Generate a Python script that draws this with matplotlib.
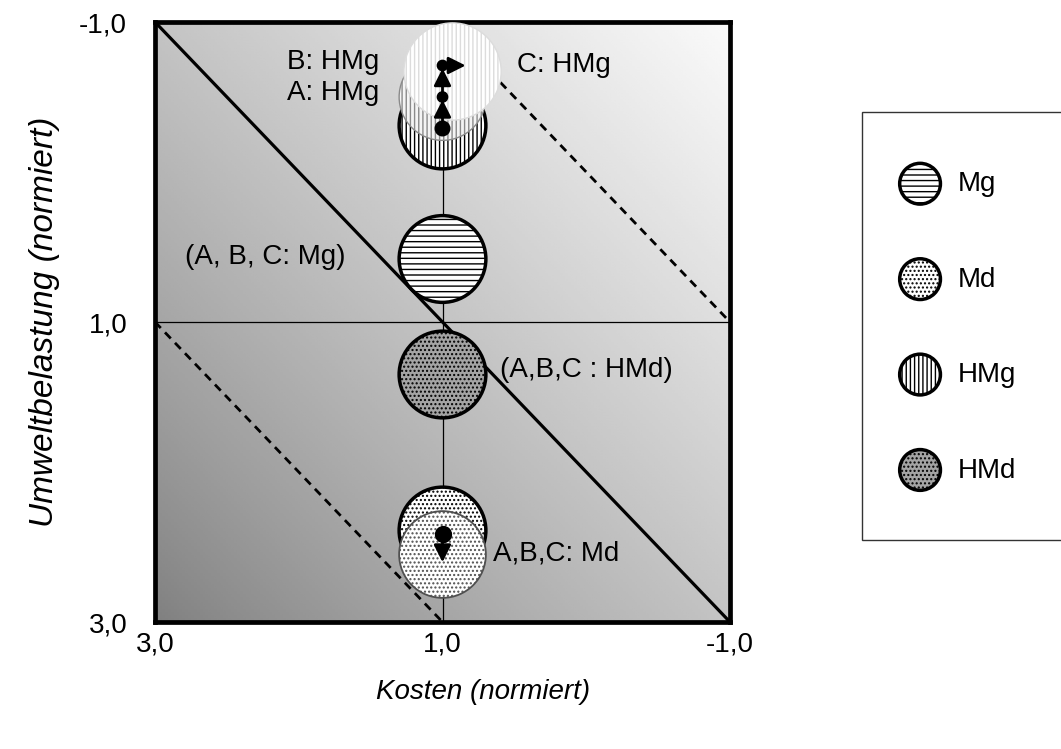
import numpy as np
import matplotlib.pyplot as plt

plt.rcParams['font.family'] = ['Liberation Sans', 'DejaVu Sans']

# Achsen (beide Achsen invertiert: 3,0 ... -1,0)
tick_values = [3, 1, -1]
tick_labels = ['3,0', '1,0', '-1,0']

# Blasen: Kosten (x) / Umweltbelastung (y), normiert
mg_cost, mg_env = [1.0], [0.58]
hmd_cost, hmd_env = [1.0], [1.35]
hmg_cost = [1.0, 1.0, 0.93]      # A, B, C
hmg_env = [-0.31, -0.50, -0.67]
md_cost = [1.0, 1.0]             # vorher / nachher
md_env = [2.39, 2.55]

# Verschiebungen (Pfeile)
hmg_path_cost = [1.0, 1.0, 1.0, 0.82]
hmg_path_env = [-0.29, -0.50, -0.71, -0.71]
md_path_cost = [1.0, 1.0]
md_path_env = [2.41, 2.62]

# Linien gleicher Summe (Kosten + Umwelt)
iso_levels = [0, 2, 4]

legend_labels = ['Mg', 'Md', 'HMg', 'HMd']

annotations = [
    ('B: HMg', 1.44, -0.735, 'right'),
    ('A: HMg', 1.44, -0.525, 'right'),
    ('C: HMg', 0.48, -0.713, 'left'),
    ('(A, B, C: Mg)', 2.79, 0.567, 'left'),
    ('(A,B,C : HMd)', 0.60, 1.32, 'left'),
    ('A,B,C: Md', 0.65, 2.54, 'left'),
]

fig = plt.figure(figsize=(10.61, 7.49), dpi=100)
ax = fig.add_axes([155/1061, 1-622/749, 575/1061, 600/749])

# Hintergrund-Verlauf
n = 200
jj, ii = np.meshgrid(np.linspace(0, 1, n), np.linspace(0, 1, n))
grad = 0.5 + 0.48 * ((ii + jj) / 2) ** 0.85
ax.imshow(grad, cmap='gray', vmin=0, vmax=1, origin='lower',
          extent=(3, -1, 3, -1), aspect='auto', zorder=0, interpolation='bilinear')

# Hilfslinien
ax.axvline(1, color='black', lw=0.9, zorder=1)
ax.axhline(1, color='black', lw=0.9, zorder=1)
xs = np.array([3, -1])
for lev in iso_levels:
    if lev == 2:
        ax.plot(xs, lev - xs, color='black', lw=2.3, zorder=2)
    else:
        ax.plot(xs, lev - xs, color='black', lw=2.0, ls=(0, (3, 2.2)), zorder=2)

S = 3900

# HMg A, B, C
hmg_a = ax.scatter(hmg_cost[:1], hmg_env[:1], s=S, facecolor='white', edgecolor='black',
                   hatch='||||', lw=2.5, zorder=3)
ax.scatter(hmg_cost[1:2], hmg_env[1:2], s=S, facecolor='#f4f4f4', edgecolor='#8a8a8a',
           hatch='||||', lw=1.0, zorder=3)
ax.scatter(hmg_cost[2:], hmg_env[2:], s=4900, facecolor='white', edgecolor='#dcdcdc',
           hatch='||||', lw=1.0, zorder=3)

# Mg
mg = ax.scatter(mg_cost, mg_env, s=S, facecolor='white', edgecolor='black',
                hatch='---', lw=2.5, zorder=3)

# HMd
hmd = ax.scatter(hmd_cost, hmd_env, s=S, facecolor='#a4a4a4', edgecolor='black',
                 hatch='....', lw=2.5, zorder=3)

# Md
md = ax.scatter(md_cost[:1], md_env[:1], s=S, facecolor='white', edgecolor='black',
                hatch='....', lw=2.5, zorder=3)
ax.scatter(md_cost[1:], md_env[1:], s=S, facecolor='white', edgecolor='#505050',
           hatch='....', lw=1.3, zorder=3)

# Pfeile und Punkte
arrow = dict(arrowstyle='-|>', color='black', lw=2, mutation_scale=26, shrinkA=0, shrinkB=2)
for i in range(len(hmg_path_cost) - 1):
    ax.annotate('', xy=(hmg_path_cost[i+1], hmg_path_env[i+1]),
                xytext=(hmg_path_cost[i], hmg_path_env[i]), arrowprops=arrow, zorder=5)
ax.scatter(hmg_path_cost[:3], hmg_path_env[:3], s=[110, 55, 55], color='black', zorder=6)
ax.annotate('', xy=(md_path_cost[1], md_path_env[1]), xytext=(md_path_cost[0], md_path_env[0]),
            arrowprops=arrow, zorder=5)
ax.scatter(md_path_cost[:1], md_path_env[:1], s=130, color='black', zorder=6)

for txt, x, y, ha in annotations:
    ax.text(x, y, txt, ha=ha, va='center', fontsize=20, zorder=7)

ax.set_xlim(3, -1)
ax.set_ylim(3, -1)
ax.set_xticks(tick_values)
ax.set_xticklabels(tick_labels)
ax.set_yticks(tick_values)
ax.set_yticklabels(tick_labels)
ax.tick_params(length=0, labelsize=20)
ax.tick_params(axis='y', pad=20)
ax.tick_params(axis='x', pad=7)
for sp in ax.spines.values():
    sp.set_linewidth(3.4)
    sp.set_color('black')

ax.set_xlabel('Kosten (normiert)', fontsize=20, style='italic')
ax.set_ylabel('Umweltbelastung (normiert)', fontsize=24, style='italic')
ax.xaxis.set_label_coords(0.57, -0.095)
ax.yaxis.set_label_coords(-0.165, 0.5)

leg = ax.legend([mg, md, hmg_a, hmd], legend_labels, loc='upper left',
                bbox_to_anchor=(862/1061, 1-112/749), bbox_transform=fig.transFigure,
                scatterpoints=1, scatteryoffsets=[0.18], markerscale=0.47, fontsize=20,
                frameon=True, fancybox=False, edgecolor='#333333', framealpha=1,
                borderpad=1.77, handlelength=0.64, handleheight=2.0, labelspacing=1.89,
                handletextpad=1.04, borderaxespad=0)
leg.get_frame().set_linewidth(1.0)

fig.savefig('out.png', dpi=100)
